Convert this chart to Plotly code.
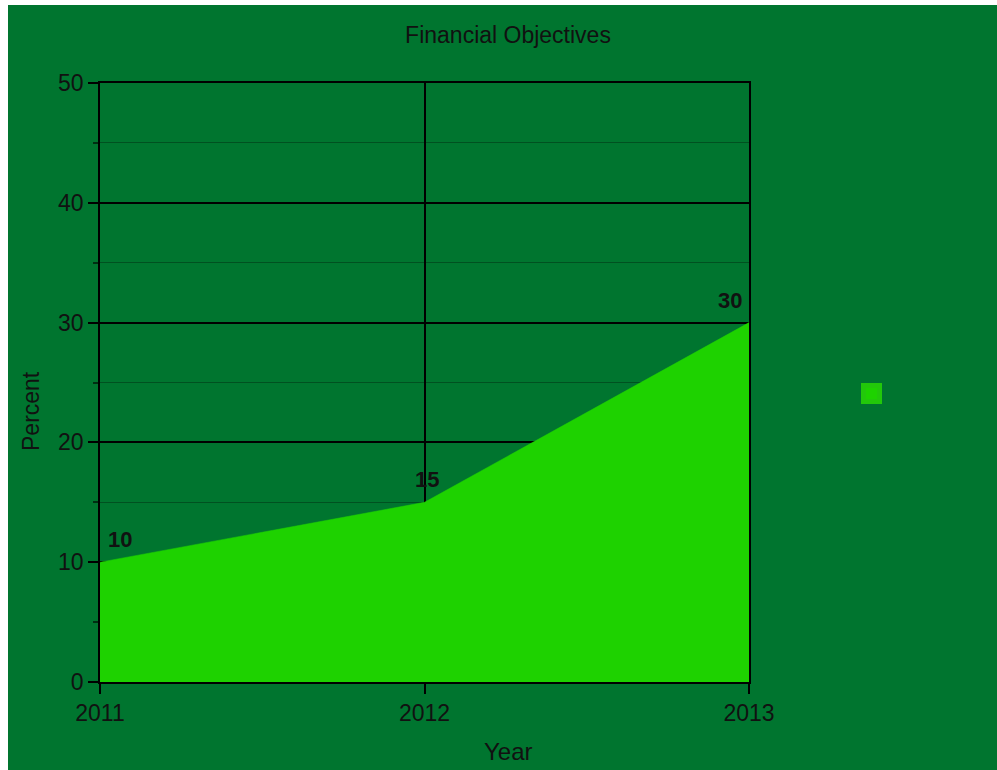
import plotly.graph_objects as go

# Data
years = [2011, 2012, 2013]
percent = [10, 15, 30]
y_ticks = [0, 10, 20, 30, 40, 50]

BG_GREEN = "#00752F"
FILL_GREEN = "#1ED200"
FONT = "Liberation Sans, Arial, sans-serif"
TEXT = "#111111"

# plot area in pixels (used to convert page positions to paper coords)
W, H = 997, 770
L, R, T, B = 100, 248, 83, 88
PW, PH = W - L - R, H - T - B


def px_x(px):
    return (px - L) / PW


def px_y(py):
    return (H - B - py) / PH


fig = go.Figure()

fig.add_trace(go.Scatter(
    x=years, y=percent,
    mode="lines",
    line=dict(color=FILL_GREEN, width=0.5),
    fill="tozeroy",
    fillcolor=FILL_GREEN,
    showlegend=False,
    hoverinfo="x+y",
))

# legend swatch
fig.add_trace(go.Scatter(
    x=[None], y=[None],
    mode="markers",
    marker=dict(symbol="square", size=16, color=FILL_GREEN,
                line=dict(color="#22C80A", width=5)),
    name=" ",
    showlegend=True,
))

# value labels above each point
anchors = ["left", "center", "right"]
xshifts = [6, 2, -5]
for x, y, a, xs in zip(years, percent, anchors, xshifts):
    fig.add_annotation(
        x=x, y=y, xref="x", yref="y",
        text=str(y), showarrow=False,
        xanchor=a, yanchor="bottom", xshift=xs, yshift=8,
        font=dict(family=FONT, size=22, color=TEXT, weight="bold"),
    )

# axis titles
fig.add_annotation(
    x=px_x(508), y=px_y(751), xref="paper", yref="paper",
    text="Year", showarrow=False, xanchor="center", yanchor="middle",
    font=dict(family=FONT, size=24, color=TEXT),
)
fig.add_annotation(
    x=px_x(31), y=px_y(411), xref="paper", yref="paper",
    text="Percent", showarrow=False, xanchor="center", yanchor="middle",
    textangle=-90,
    font=dict(family=FONT, size=23, color=TEXT),
)

# green page panel, leaving a thin white strip at left and top
fig.add_shape(
    type="rect", xref="paper", yref="paper", layer="below",
    x0=px_x(8), x1=px_x(W + 40), y0=px_y(H + 40), y1=px_y(5),
    fillcolor=BG_GREEN, line=dict(width=0),
)

fig.update_layout(
    width=W, height=H,
    margin=dict(l=L, r=R, t=T, b=B, pad=0),
    paper_bgcolor="white",
    plot_bgcolor=BG_GREEN,
    font=dict(family=FONT, size=23, color=TEXT),
    title=dict(
        text="Financial Objectives",
        xref="container", yref="container",
        x=508 / W, y=1 - 35 / H, xanchor="center", yanchor="middle",
        font=dict(family=FONT, size=23, color=TEXT),
    ),
    legend=dict(
        x=px_x(851.5), y=px_y(394), xanchor="left", yanchor="middle",
        bgcolor="rgba(0,0,0,0)", borderwidth=0,
        font=dict(family=FONT, size=14),
    ),
    showlegend=True,
)

fig.update_xaxes(
    range=[years[0], years[-1]],
    tickvals=years, ticktext=[str(y) for y in years],
    ticks="outside", ticklen=10, tickcolor="black", tickwidth=1.5,
    showgrid=True, gridcolor="black", gridwidth=1.5,
    showline=True, linecolor="black", linewidth=1.5, mirror=True,
    zeroline=False,
    tickfont=dict(family=FONT, size=23, color=TEXT),
)

fig.update_yaxes(
    range=[0, 50],
    tickvals=y_ticks,
    ticks="outside", ticklen=10, tickcolor="black", tickwidth=1.5,
    showgrid=True, gridcolor="black", gridwidth=1.5,
    minor=dict(dtick=5, showgrid=True, gridcolor="rgba(0,0,0,0.3)", gridwidth=1,
               ticks="outside", ticklen=5, tickcolor="rgba(0,0,0,0.6)"),
    showline=True, linecolor="black", linewidth=1.5, mirror=True,
    zeroline=False,
    tickfont=dict(family=FONT, size=23, color=TEXT),
)

fig.write_html("out.html")
